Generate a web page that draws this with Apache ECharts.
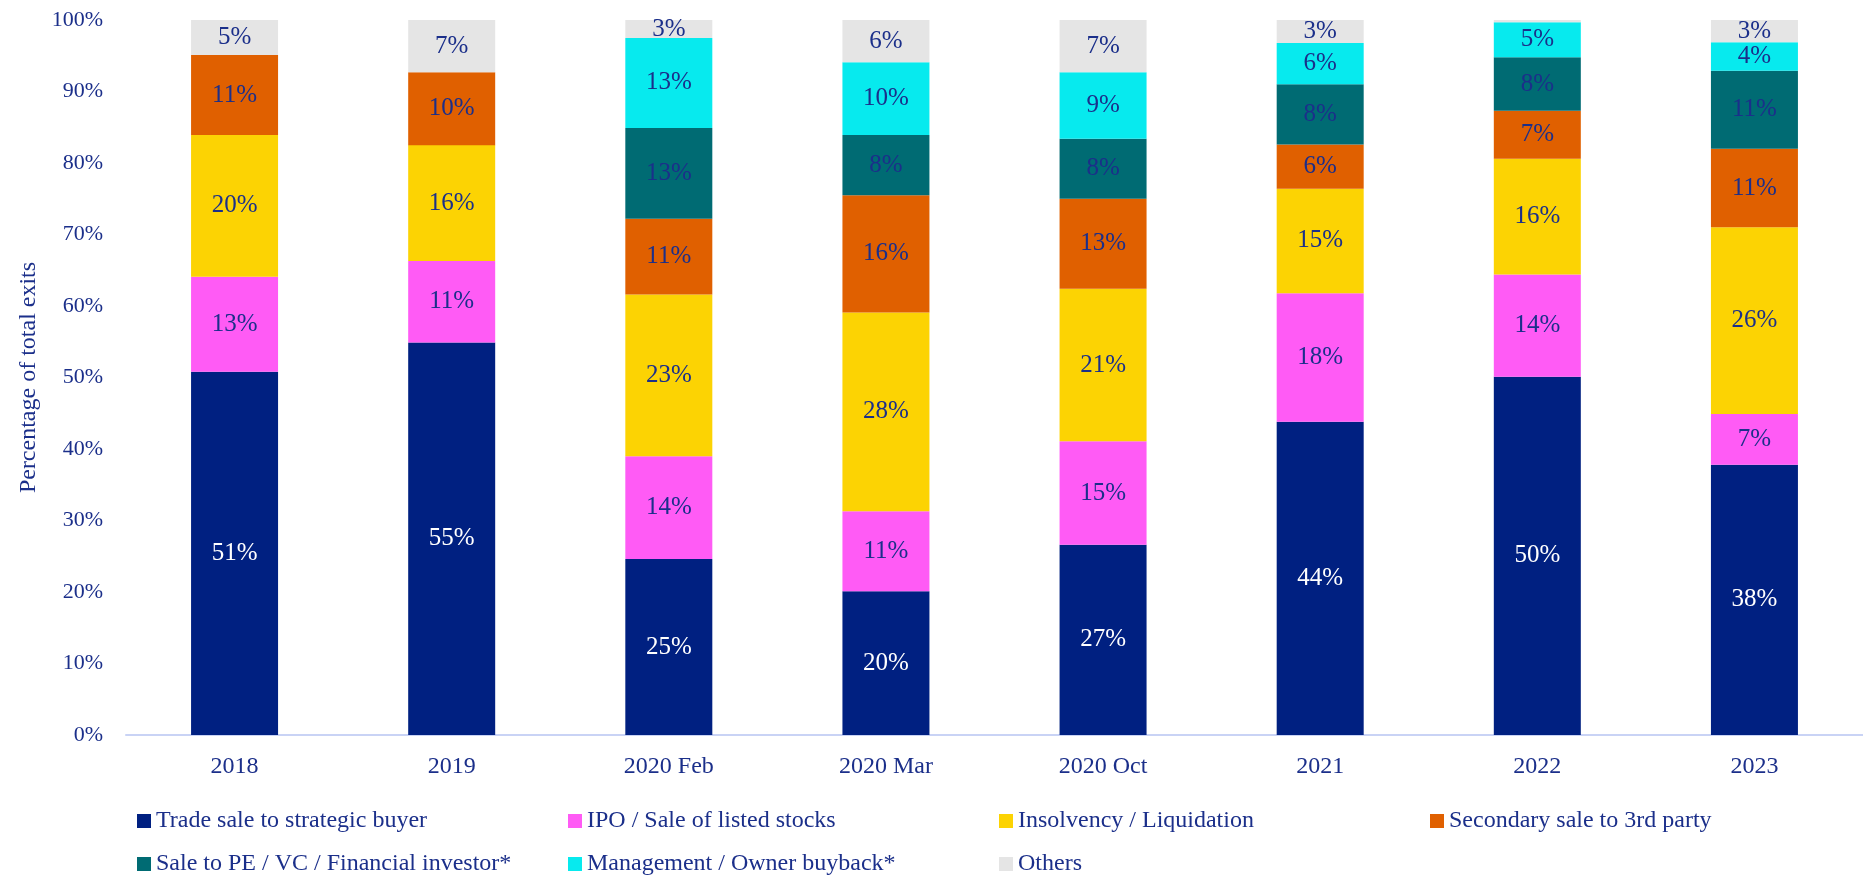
<!DOCTYPE html>
<html>
<head>
<meta charset="utf-8">
<title>Exit routes</title>
<script src="https://cdn.jsdelivr.net/npm/echarts@6/dist/echarts.min.js"></script>
<style>
  html, body { margin: 0; padding: 0; background: #fff; }
  #exitChart { width: 1863px; height: 877px; }
</style>
</head>
<body>
<div id="exitChart"></div>
<script>
  const categories = ['2018', '2019', '2020 Feb', '2020 Mar', '2020 Oct', '2021', '2022', '2023'];

  // share of total exits, %
  const tradeSale = [50.8, 54.9, 24.6, 20.1, 26.6, 43.8, 50.1, 37.8];
  const ipoListed = [13.3, 11.4, 14.4, 11.2, 14.5, 18.0, 14.3, 7.1];
  const insolvency = [19.8, 16.2, 22.6, 27.8, 21.3, 14.6, 16.2, 26.1];
  const secondarySale = [11.2, 10.2, 10.6, 16.4, 12.6, 6.2, 6.7, 11.0];
  const financialInvestor = [0, 0, 12.7, 8.4, 8.4, 8.4, 7.5, 10.9];
  const ownerBuyback = [0, 0, 12.6, 10.2, 9.3, 5.8, 4.9, 4.0];
  const others = [4.9, 7.3, 2.5, 5.9, 7.3, 3.2, 0.3, 3.1];

  const seriesNames = [
    'Trade sale to strategic buyer',
    'IPO / Sale of listed stocks',
    'Insolvency / Liquidation',
    'Secondary sale to 3rd party',
    'Sale to PE / VC / Financial investor*',
    'Management / Owner buyback*',
    'Others'
  ];
  const seriesData = [tradeSale, ipoListed, insolvency, secondarySale, financialInvestor, ownerBuyback, others];
  const colors = ['#002081', '#FF5BF5', '#FCD303', '#E06000', '#006B73', '#07EAEE', '#E5E5E5'];

  const textColor = '#1B2F8A';
  const fontFamily = '"Liberation Serif", "Times New Roman", serif';

  let myChart = echarts.init(document.getElementById('exitChart'));

  // legend is laid out as a 4-column grid, one legend per item
  const legendCols = [137, 568, 999, 1430];
  const legendRows = [809, 852];
  const legends = seriesNames.map((name, i) => ({
    data: [name],
    left: legendCols[i % 4],
    top: legendRows[Math.floor(i / 4)],
    padding: 0,
    itemWidth: 14,
    itemHeight: 14,
    icon: 'rect',
    selectedMode: false,
    textStyle: {
      color: textColor,
      fontFamily: fontFamily,
      fontSize: 24,
      lineHeight: 24
    }
  }));

  const option = {
    color: colors,
    animation: false,
    legend: legends,
    grid: {
      left: 126,
      right: 0,
      top: 20,
      bottom: 142,
      containLabel: false
    },
    xAxis: {
      type: 'category',
      data: categories,
      axisLine: { lineStyle: { color: '#C9D3F5', width: 2 } },
      axisTick: { show: false },
      axisLabel: {
        color: textColor,
        fontFamily: fontFamily,
        fontSize: 24,
        margin: 20
      }
    },
    yAxis: {
      type: 'value',
      min: 0,
      max: 100,
      interval: 10,
      name: 'Percentage of total exits',
      nameLocation: 'middle',
      nameGap: 85,
      nameTextStyle: {
        color: textColor,
        fontFamily: fontFamily,
        fontSize: 24
      },
      splitLine: { show: false },
      axisLine: { show: false },
      axisTick: { show: false },
      axisLabel: {
        color: textColor,
        fontFamily: fontFamily,
        fontSize: 22,
        margin: 23,
        formatter: '{value}%'
      }
    },
    series: seriesNames.map((name, i) => ({
      name: name,
      type: 'bar',
      stack: 'total',
      barWidth: 87,
      data: seriesData[i],
      label: {
        show: true,
        position: 'inside',
        color: i === 0 ? '#FFFFFF' : textColor,
        fontFamily: fontFamily,
        fontSize: 25,
        formatter: (p) => (p.value < 1 ? '' : Math.round(p.value) + '%')
      }
    }))
  };
  myChart.setOption(option);
</script>
</body>
</html>
